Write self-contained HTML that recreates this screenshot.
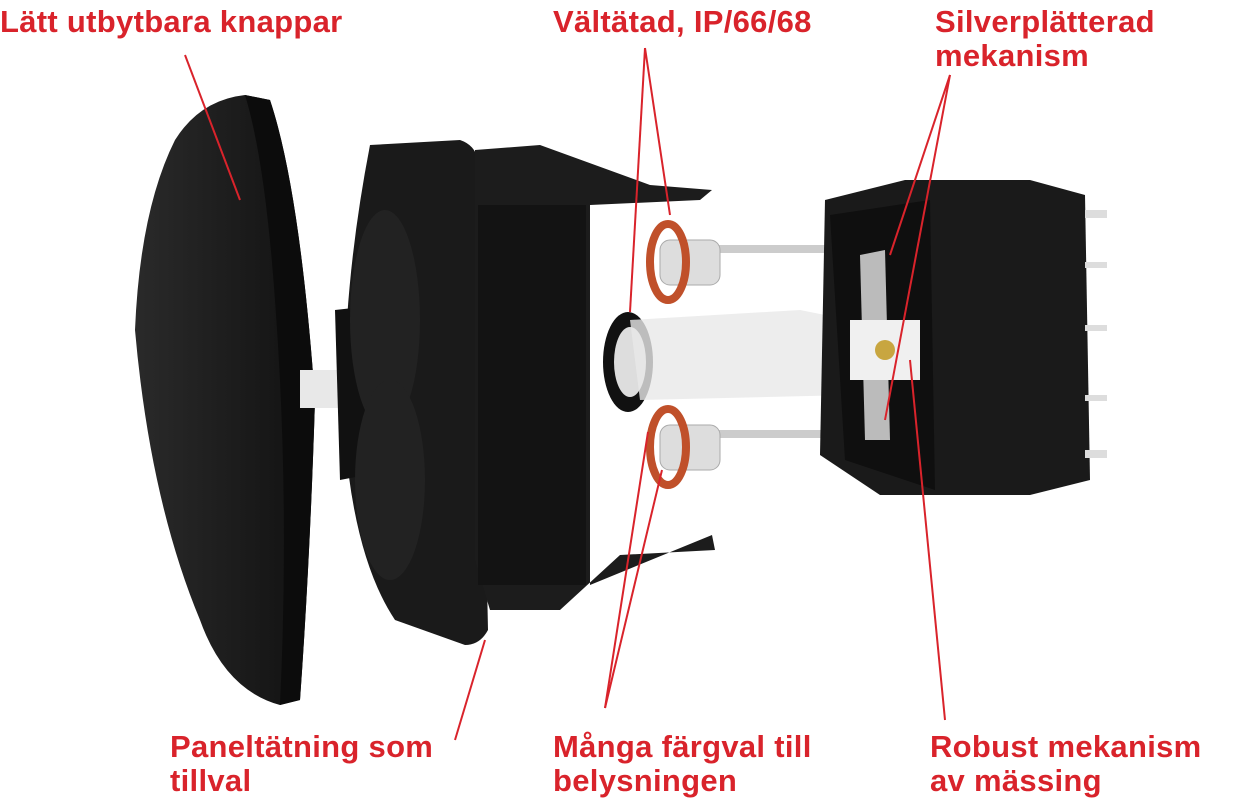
<!DOCTYPE html>
<html><head><meta charset="utf-8"><style>
html,body{margin:0;padding:0;background:#fff;}
.wrap{position:relative;width:1250px;height:809px;overflow:hidden;font-family:"Liberation Sans",sans-serif;}
.t{position:absolute;color:#d9232b;font-weight:bold;font-size:31px;line-height:34px;white-space:nowrap;letter-spacing:0.3px;}
svg{position:absolute;left:0;top:0;}
</style></head><body><div class="wrap">
<svg width="1250" height="809" viewBox="0 0 1250 809">
<defs>
<linearGradient id="g1" x1="0" x2="1"><stop offset="0" stop-color="#2a2a2a"/><stop offset="1" stop-color="#111"/></linearGradient>
</defs>
<path d="M175 140 Q200 100 245 95 L270 100 Q300 190 315 400 Q310 560 300 700 L280 705 Q225 690 200 620 Q150 500 135 330 Q140 210 175 140Z" fill="url(#g1)"/>
<path d="M245 95 L270 100 Q300 190 315 400 Q310 560 300 700 L280 705 Q290 500 275 300 Q265 160 245 95Z" fill="#0c0c0c"/>
<rect x="300" y="370" width="40" height="38" fill="#e8e8e8"/>
<path d="M370 145 L460 140 Q475 145 478 160 L488 630 Q480 645 465 645 L395 620 Q355 560 345 440 Q340 300 370 145Z" fill="#1a1a1a"/>
<path d="M335 310 L380 305 L392 470 L340 480 Z" fill="#111"/>
<ellipse cx="385" cy="320" rx="35" ry="110" fill="#222"/>
<ellipse cx="390" cy="480" rx="35" ry="100" fill="#222"/>
<path d="M475 150 L540 145 L650 185 L712 190 L700 200 L590 205 L590 585 L712 535 L715 550 L620 555 L560 610 L490 610 L475 560Z" fill="#1c1c1c"/>
<rect x="478" y="205" width="108" height="380" fill="#131313"/>
<g fill="#ddd" stroke="#aaa">
<rect x="690" y="245" width="140" height="8" fill="#ccc" stroke="none"/>
<rect x="690" y="430" width="140" height="8" fill="#ccc" stroke="none"/>
<rect x="660" y="240" width="60" height="45" rx="10"/>
<rect x="660" y="425" width="60" height="45" rx="10"/>
</g>
<ellipse cx="668" cy="262" rx="18" ry="38" fill="none" stroke="#c0502a" stroke-width="8"/>
<ellipse cx="668" cy="447" rx="18" ry="38" fill="none" stroke="#c0502a" stroke-width="8"/>
<ellipse cx="628" cy="362" rx="25" ry="50" fill="#111"/>
<ellipse cx="630" cy="362" rx="16" ry="35" fill="#ddd"/>
<path d="M630 320 L800 310 L850 320 L850 395 L640 400Z" fill="#e8e8e8" opacity="0.8"/>
<path d="M825 200 L905 180 L1030 180 L1085 195 L1090 480 L1030 495 L880 495 L820 455Z" fill="#1a1a1a"/>
<path d="M830 215 L930 200 L935 490 L845 460Z" fill="#0f0f0f"/>
<g fill="#ddd"><rect x="1085" y="210" width="22" height="8"/><rect x="1085" y="262" width="22" height="6"/><rect x="1085" y="325" width="22" height="6"/><rect x="1085" y="395" width="22" height="6"/><rect x="1085" y="450" width="22" height="8"/></g>
<path d="M860 255 L885 250 L890 440 L865 440Z" fill="#bbb"/>
<rect x="850" y="320" width="70" height="60" fill="#f0f0f0"/>
<circle cx="885" cy="350" r="10" fill="#c8a640"/>
<g stroke="#d9232b" stroke-width="2" fill="none">
<line x1="185" y1="55" x2="240" y2="200"/>
<line x1="645" y1="48" x2="630" y2="312"/>
<line x1="645" y1="48" x2="670" y2="215"/>
<line x1="950" y1="75" x2="890" y2="255"/>
<line x1="950" y1="75" x2="885" y2="420"/>
<line x1="455" y1="740" x2="485" y2="640"/>
<line x1="605" y1="708" x2="648" y2="432"/>
<line x1="605" y1="708" x2="662" y2="470"/>
<line x1="945" y1="720" x2="910" y2="360"/>
</g>
</svg>
<div class="t" style="left:0;top:5px">Lätt utbytbara knappar</div>
<div class="t" style="left:553px;top:5px">Vältätad, IP/66/68</div>
<div class="t" style="left:935px;top:5px">Silverplätterad<br>mekanism</div>
<div class="t" style="left:170px;top:730px">Paneltätning som<br>tillval</div>
<div class="t" style="left:553px;top:730px">Många färgval till<br>belysningen</div>
<div class="t" style="left:930px;top:730px">Robust mekanism<br>av mässing</div>
</div></body></html>
